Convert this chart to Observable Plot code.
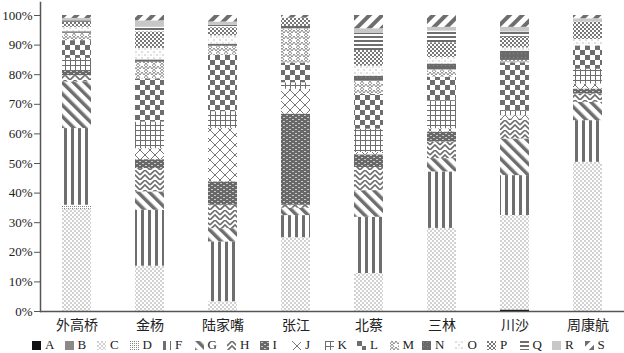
<!DOCTYPE html>
<html><head><meta charset="utf-8">
<script src="https://cdn.jsdelivr.net/npm/d3@7"></script>
<script src="https://cdn.jsdelivr.net/npm/@observablehq/plot@0.6"></script>
<style>
body{margin:0;background:#fff;}
#wrap{position:relative;width:624px;height:353px;}
#legend{position:absolute;left:32px;top:338px;display:flex;font-family:"Liberation Serif",serif;font-size:13px;color:#222;line-height:14px;}
.item{width:32.5px;display:flex;align-items:center;white-space:nowrap;}
.item svg{margin-right:4px;}
</style></head><body>
<svg width="0" height="0" style="position:absolute"><defs id="defs"></defs></svg>
<div id="wrap"><div id="chart"></div><div id="legend"></div></div>
<script>
const categories = ["外高桥","金杨","陆家嘴","张江","北蔡","三林","川沙","周康航"];
const seriesNames = ["A","B","C","D","F","G","H","I","J","K","L","M","N","O","P","Q","R","S"];
const A = [0,0,0,0,0,0,0.5,0];
const B = [0,0,0,0,0,0,0,0];
const C = [34.5,15.3,3.3,25,12.9,28.1,32,50.5];
const D = [1.4,0,0,0,0,0,0,0];
const F = [25.9,18.9,20.2,7.5,19.1,19.1,13.5,14.1];
const G = [15.7,6.2,4.5,2.5,9,4.5,12.4,6.2];
const H = [2.2,7.9,7.9,1,7.9,5.6,6.8,2.8];
const I = [1.7,3,7.9,30.9,4.3,3.4,0,1.7];
const J = [0,3.7,18.1,8.4,0.8,1.1,1.1,1.7];
const K = [4.1,9,5.6,2.2,7.9,9.5,1.7,5];
const L = [6,14.6,19.1,6.7,11.8,7.9,16.2,7.9];
const M = [2.5,5.6,3,11.6,4.5,2.5,0.8,0];
const N = [0.5,0.8,0.7,0.8,1.7,2,3.1,0];
const O = [1.5,3.9,2.8,0,3.4,2.2,1.1,2.2];
const P = [1.7,5.6,2.8,2.8,5.3,5,3.6,5.9];
const Q = [0.5,1.5,0.8,0,5.9,3.9,1.8,0];
const R = [0.8,2.2,1.1,0,1.5,1.3,1.6,1.1];
const S = [1,1.8,2.2,0.9,4.5,4,4,1.1];
const valuesBySeries = {A,B,C,D,F,G,H,I,J,K,L,M,N,O,P,Q,R,S};

const dk = "#6e6e6e";
const patterns = {
  A: `<rect width="4" height="4" fill="#111"/>`,
  B: `<rect width="4" height="4" fill="#8a8a8a"/>`,
  C: `<rect width="4" height="4" fill="#fff"/><circle cx="1" cy="1" r="0.8" fill="#9a9a9a"/><circle cx="3" cy="3" r="0.8" fill="#9a9a9a"/>`,
  D: `<rect width="4" height="4" fill="#fff"/><rect width="1" height="1" fill="#777"/><rect x="2" y="2" width="1" height="1" fill="#777"/><rect x="2" width="1" height="1" fill="#999"/><rect y="2" width="1" height="1" fill="#999"/>`,
  F: `<rect width="7" height="7" fill="#fff"/><rect x="1" width="3" height="7" fill="${dk}"/>`,
  G: `<rect width="8" height="8" fill="#fff"/><rect width="3.5" height="8" fill="${dk}"/>`,
  H: `<rect width="10" height="10" fill="#fff"/><path d="M0 5 L5 0 L10 5 M0 10 L5 5 L10 10" stroke="${dk}" stroke-width="1.6" fill="none"/>`,
  I: `<rect width="6" height="4" fill="#686868"/><rect x="1" y="1" width="2" height="1" fill="#c8c8c8"/><rect x="4" y="3" width="2" height="1" fill="#c8c8c8"/>`,
  J: `<rect width="10" height="10" fill="#fff"/><path d="M0 0 L10 10 M10 0 L0 10" stroke="#777" stroke-width="1"/>`,
  K: `<rect width="5" height="5" fill="#fff"/><path d="M0 0.5 H5 M0.5 0 V5" stroke="${dk}" stroke-width="1"/>`,
  L: `<rect width="10" height="10" fill="#fff"/><rect width="5" height="5" fill="${dk}"/><rect x="5" y="5" width="5" height="5" fill="${dk}"/>`,
  M: `<rect width="8" height="6" fill="#fff"/><path d="M0 3 L2 0 L4 3 L6 0 L8 3 M0 6 L2 3 L4 6" stroke="#888" stroke-width="1" fill="none"/>`,
  N: `<rect width="4" height="4" fill="#6a6a6a"/><rect x="1" y="1" width="1" height="1" fill="#8a8a8a"/>`,
  O: `<rect width="6" height="6" fill="#fff"/><circle cx="1" cy="1" r="0.7" fill="#aaa"/><circle cx="4" cy="4" r="0.7" fill="#aaa"/><circle cx="4" cy="1" r="0.5" fill="#ccc"/>`,
  P: `<rect width="4" height="4" fill="#fff"/><rect width="2" height="2" fill="#777"/><rect x="2" y="2" width="2" height="2" fill="#777"/>`,
  Q: `<rect width="4" height="4" fill="#fff"/><rect width="4" height="2" fill="${dk}"/>`,
  R: `<rect width="4" height="4" fill="#c8c8c8"/>`,
  S: `<rect width="9" height="9" fill="#fff"/><rect width="4" height="9" fill="${dk}"/>`
};
const sizes = {A:[4,4],B:[4,4],C:[4,4],D:[4,4],F:[7,7],G:[8,8],H:[10,10],I:[6,4],J:[10,10],K:[5,5],L:[10,10],M:[8,6],N:[4,4],O:[6,6],P:[4,4],Q:[4,4],R:[4,4],S:[9,9]};
const transforms = {G:"rotate(-45)", S:"rotate(45)"};
document.getElementById("defs").innerHTML = seriesNames.map(s =>
  `<pattern id="pat-${s}" patternUnits="userSpaceOnUse" width="${sizes[s][0]}" height="${sizes[s][1]}"${transforms[s] ? ` patternTransform="${transforms[s]}"` : ""}>${patterns[s]}</pattern>`).join("");

const rows = [];
for (const s of seriesNames) categories.forEach((c, i) => rows.push({cat: c, series: s, value: valuesBySeries[s][i]}));

const chart = Plot.plot({
  width: 624, height: 334, marginTop: 15, marginBottom: 23, marginLeft: 40, marginRight: 0,
  style: {fontFamily: "'Liberation Serif', serif", fontSize: "13px", color: "#222", background: "transparent"},
  x: {domain: categories, paddingInner: 0.6, paddingOuter: 0.3, label: null},
  y: {domain: [0, 1], label: null},
  color: {domain: seriesNames, range: seriesNames.map(s => `url(#pat-${s})`)},
  marks: [
    Plot.barY(rows, Plot.stackY({x: "cat", y: "value", z: "series", fill: "series", order: seriesNames, offset: "normalize"})),
    Plot.axisY({ticks: d3.range(0, 1.01, 0.1), tickFormat: d3.format(".0%"), tickSize: 6, tickPadding: 2, stroke: "#555", fontSize: 13}),
    Plot.axisX({tickSize: 0, tickPadding: 9, fontFamily: "'Noto Sans CJK SC'", fontSize: 14}),
    Plot.ruleY([0], {stroke: "#555", strokeWidth: 1.5}),
    Plot.frame({anchor: "left", stroke: "#555", strokeWidth: 1.5, insetTop: -13})
  ]
});
document.getElementById("chart").append(chart);

const legend = document.getElementById("legend");
for (const s of seriesNames) {
  const it = document.createElement("div");
  it.className = "item";
  it.innerHTML = `<svg width="9" height="9"><rect width="9" height="9" fill="url(#pat-${s})"/></svg><span>${s}</span>`;
  legend.append(it);
}
</script>
</body></html>
